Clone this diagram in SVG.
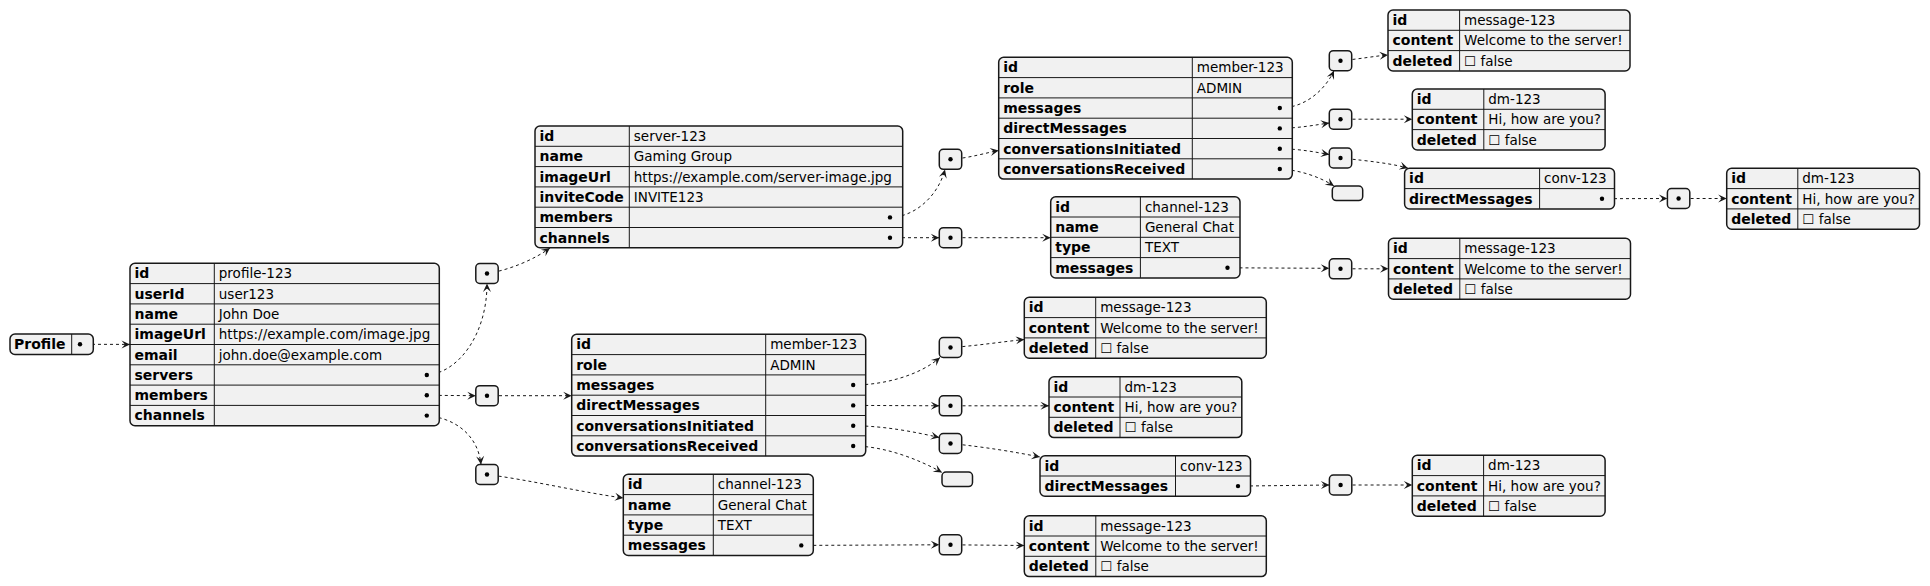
<svg xmlns="http://www.w3.org/2000/svg" width="1930" height="586" viewBox="0 0 1930 586">
<style>
.t{fill:#F1F1F1;stroke:#181818;stroke-width:1.5}
.g{fill:none;stroke:#181818;stroke-width:1}
.k{font-family:"DejaVu Sans",sans-serif;font-weight:bold;font-size:14px;fill:#000}
.v{font-family:"DejaVu Sans",sans-serif;font-size:13.5px;fill:#000}
.d{fill:#000}
.c{fill:none;stroke:#181818;stroke-width:1;stroke-dasharray:3,3}
</style>
<defs>
<marker id="ah" viewBox="-10 -5 11 10" refX="0" refY="0" markerWidth="11" markerHeight="10" orient="auto" markerUnits="userSpaceOnUse"><path d="M0,0 L-8.5,-4 L-5,0 L-8.5,4 Z" fill="#181818"/></marker>
</defs>
<rect width="1930" height="586" fill="#fff"/>

<g id="connectors" class="c" marker-end="url(#ah)">
<path d="M80,344.3 L130,344.4"/>
<path d="M426.8,375 C458,373 487,335 487,283.5"/>
<path d="M426.8,395.3 L475.8,395.7"/>
<path d="M426.8,415.6 C455,418 478,435 481,464.5"/>
<path d="M487,273.5 C510,270 535,259 550,248"/>
<path d="M487,395.7 L571.7,395.7"/>
<path d="M487,474.5 C530,480 580,492 623.3,498"/>
<path d="M890,217.4 C915,217 938,196 945,169.5"/>
<path d="M890,237.7 L939.3,237.7"/>
<path d="M950.5,159.3 C970,158 985,153 998.7,150.5"/>
<path d="M950.5,237.7 L1050.7,237.7"/>
<path d="M1279.8,108 C1305,108 1325,90 1334,70.7"/>
<path d="M1279.8,128.4 C1300,128 1315,125 1329.3,123"/>
<path d="M1279.8,148.7 C1300,149 1315,152 1329.3,154.5"/>
<path d="M1279.8,169 C1300,170 1320,177 1334,186"/>
<path d="M1340.5,60.7 C1360,59 1375,56 1388,55"/>
<path d="M1340.5,119.2 L1412.3,119.2"/>
<path d="M1340.5,158 C1370,161 1395,164 1408,168.3"/>
<path d="M1602,198.7 L1667.4,198.5"/>
<path d="M1678.6,198.5 L1726.7,198.5"/>
<path d="M1227.5,267.8 L1329.3,268.3"/>
<path d="M1340.5,268.8 L1388.5,268.8"/>
<path d="M853.2,385 C885,385 920,375 940,357.5"/>
<path d="M853.2,405.4 L939.3,405.8"/>
<path d="M853.2,425.7 C885,426 915,432 939.3,437.5"/>
<path d="M853.2,446 C885,446 920,460 942,472.5"/>
<path d="M950.5,347.5 C975,346 1000,342 1024.3,339.5"/>
<path d="M950.5,405.8 L1049,405.8"/>
<path d="M950.5,443.5 C985,447 1015,452 1040,457"/>
<path d="M1238,486.1 L1329.4,485"/>
<path d="M1340.6,485 L1412.3,485"/>
<path d="M801.3,545.4 L939.3,544.8"/>
<path d="M950.5,544.8 L1024.3,545.5"/>
</g>

<g id="root">
<rect class="t" x="10" y="334" width="83.3" height="20.5" rx="5"/>
<path class="g" d="M71.7,334V354.5"/>
<text class="k" x="14" y="349">Profile</text>
<circle class="d" cx="80" cy="344.3" r="2.2"/>
</g>

<g id="profile">
<rect class="t" x="130" y="263.3" width="309.3" height="162.4" rx="5"/>
<path class="g" d="M130,283.6H439.3M130,303.9H439.3M130,324.2H439.3M130,344.5H439.3M130,364.8H439.3M130,385.1H439.3M130,405.4H439.3M214.3,263.3V425.7"/>
<text class="k" x="134.5" y="278.3">id</text><text class="v" x="218.8" y="278.3">profile-123</text>
<text class="k" x="134.5" y="298.6">userId</text><text class="v" x="218.8" y="298.6">user123</text>
<text class="k" x="134.5" y="318.9">name</text><text class="v" x="218.8" y="318.9">John Doe</text>
<text class="k" x="134.5" y="339.2">imageUrl</text><text class="v" x="218.8" y="339.2">https://example.com/image.jpg</text>
<text class="k" x="134.5" y="359.5">email</text><text class="v" x="218.8" y="359.5">john.doe@example.com</text>
<text class="k" x="134.5" y="379.8">servers</text><circle class="d" cx="426.8" cy="375" r="2.2"/>
<text class="k" x="134.5" y="400.1">members</text><circle class="d" cx="426.8" cy="395.3" r="2.2"/>
<text class="k" x="134.5" y="420.4">channels</text><circle class="d" cx="426.8" cy="415.6" r="2.2"/>
</g>

<g id="arr-servers"><rect class="t" x="475.8" y="263.5" width="22.4" height="20" rx="4"/><circle class="d" cx="487" cy="273.5" r="2.2"/></g>
<g id="arr-members"><rect class="t" x="475.8" y="385.7" width="22.4" height="20" rx="4"/><circle class="d" cx="487" cy="395.7" r="2.2"/></g>
<g id="arr-channels"><rect class="t" x="475.8" y="464.5" width="22.4" height="20" rx="4"/><circle class="d" cx="487" cy="474.5" r="2.2"/></g>

<g id="server">
<rect class="t" x="535" y="126" width="367.7" height="121.8" rx="5"/>
<path class="g" d="M535,146.3H902.7M535,166.6H902.7M535,186.9H902.7M535,207.2H902.7M535,227.5H902.7M629.3,126V247.8"/>
<text class="k" x="539.5" y="141">id</text><text class="v" x="633.8" y="141">server-123</text>
<text class="k" x="539.5" y="161.3">name</text><text class="v" x="633.8" y="161.3">Gaming Group</text>
<text class="k" x="539.5" y="181.6">imageUrl</text><text class="v" x="633.8" y="181.6">https://example.com/server-image.jpg</text>
<text class="k" x="539.5" y="201.9">inviteCode</text><text class="v" x="633.8" y="201.9">INVITE123</text>
<text class="k" x="539.5" y="222.2">members</text><circle class="d" cx="890" cy="217.4" r="2.2"/>
<text class="k" x="539.5" y="242.5">channels</text><circle class="d" cx="890" cy="237.7" r="2.2"/>
</g>

<g id="arr-server-members"><rect class="t" x="939.3" y="149.3" width="22.4" height="20" rx="4"/><circle class="d" cx="950.5" cy="159.3" r="2.2"/></g>
<g id="arr-server-channels"><rect class="t" x="939.3" y="227.7" width="22.4" height="20" rx="4"/><circle class="d" cx="950.5" cy="237.7" r="2.2"/></g>

<g id="member1">
<rect class="t" x="998.7" y="57.3" width="293.6" height="121.8" rx="5"/>
<path class="g" d="M998.7,77.6H1292.3M998.7,97.9H1292.3M998.7,118.2H1292.3M998.7,138.5H1292.3M998.7,158.8H1292.3M1192.3,57.3V179.1"/>
<text class="k" x="1003.2" y="72.3">id</text><text class="v" x="1196.8" y="72.3">member-123</text>
<text class="k" x="1003.2" y="92.6">role</text><text class="v" x="1196.8" y="92.6">ADMIN</text>
<text class="k" x="1003.2" y="112.9">messages</text><circle class="d" cx="1279.8" cy="108" r="2.2"/>
<text class="k" x="1003.2" y="133.2">directMessages</text><circle class="d" cx="1279.8" cy="128.4" r="2.2"/>
<text class="k" x="1003.2" y="153.5">conversationsInitiated</text><circle class="d" cx="1279.8" cy="148.7" r="2.2"/>
<text class="k" x="1003.2" y="173.8">conversationsReceived</text><circle class="d" cx="1279.8" cy="169" r="2.2"/>
</g>

<g id="arr-m1-messages"><rect class="t" x="1329.3" y="50.7" width="22.4" height="20" rx="4"/><circle class="d" cx="1340.5" cy="60.7" r="2.2"/></g>
<g id="arr-m1-dms"><rect class="t" x="1329.3" y="109.2" width="22.4" height="20" rx="4"/><circle class="d" cx="1340.5" cy="119.2" r="2.2"/></g>
<g id="arr-m1-convinit"><rect class="t" x="1329.3" y="148" width="22.4" height="20" rx="4"/><circle class="d" cx="1340.5" cy="158" r="2.2"/></g>
<g id="arr-m1-convrecv"><rect class="t" x="1332.3" y="186" width="30.4" height="14.6" rx="4"/></g>

<g id="message1">
<rect class="t" x="1388" y="10" width="242" height="60.9" rx="5"/>
<path class="g" d="M1388,30.3H1630M1388,50.6H1630M1459.6,10V70.9"/>
<text class="k" x="1392.5" y="25">id</text><text class="v" x="1464.1" y="25">message-123</text>
<text class="k" x="1392.5" y="45.3">content</text><text class="v" x="1464.1" y="45.3">Welcome to the server!</text>
<text class="k" x="1392.5" y="65.6">deleted</text><text class="v" x="1464.1" y="65.6">☐ false</text>
</g>

<g id="dm1">
<rect class="t" x="1412.3" y="89" width="192.8" height="60.9" rx="5"/>
<path class="g" d="M1412.3,109.3H1605.1M1412.3,129.6H1605.1M1483.8,89V149.9"/>
<text class="k" x="1416.8" y="104">id</text><text class="v" x="1488.3" y="104">dm-123</text>
<text class="k" x="1416.8" y="124.3">content</text><text class="v" x="1488.3" y="124.3">Hi, how are you?</text>
<text class="k" x="1416.8" y="144.6">deleted</text><text class="v" x="1488.3" y="144.6">☐ false</text>
</g>

<g id="conv1">
<rect class="t" x="1404.6" y="168.3" width="209.9" height="40.6" rx="5"/>
<path class="g" d="M1404.6,188.6H1614.5M1539.6,168.3V208.9"/>
<text class="k" x="1409.1" y="183.3">id</text><text class="v" x="1544.1" y="183.3">conv-123</text>
<text class="k" x="1409.1" y="203.6">directMessages</text><circle class="d" cx="1602" cy="198.7" r="2.2"/>
</g>

<g id="arr-conv1-dms"><rect class="t" x="1667.4" y="188.5" width="22.4" height="20" rx="4"/><circle class="d" cx="1678.6" cy="198.5" r="2.2"/></g>

<g id="dm2">
<rect class="t" x="1726.7" y="168.3" width="192.8" height="60.9" rx="5"/>
<path class="g" d="M1726.7,188.6H1919.5M1726.7,208.9H1919.5M1797.8,168.3V229.2"/>
<text class="k" x="1731.2" y="183.3">id</text><text class="v" x="1802.3" y="183.3">dm-123</text>
<text class="k" x="1731.2" y="203.6">content</text><text class="v" x="1802.3" y="203.6">Hi, how are you?</text>
<text class="k" x="1731.2" y="223.9">deleted</text><text class="v" x="1802.3" y="223.9">☐ false</text>
</g>

<g id="channel1">
<rect class="t" x="1050.7" y="196.7" width="189.3" height="81.2" rx="5"/>
<path class="g" d="M1050.7,217H1240M1050.7,237.3H1240M1050.7,257.6H1240M1140.4,196.7V277.9"/>
<text class="k" x="1055.2" y="211.7">id</text><text class="v" x="1144.9" y="211.7">channel-123</text>
<text class="k" x="1055.2" y="232">name</text><text class="v" x="1144.9" y="232">General Chat</text>
<text class="k" x="1055.2" y="252.3">type</text><text class="v" x="1144.9" y="252.3">TEXT</text>
<text class="k" x="1055.2" y="272.6">messages</text><circle class="d" cx="1227.5" cy="267.8" r="2.2"/>
</g>

<g id="arr-ch1-messages"><rect class="t" x="1329.3" y="258.8" width="22.4" height="20" rx="4"/><circle class="d" cx="1340.5" cy="268.8" r="2.2"/></g>

<g id="message2">
<rect class="t" x="1388.5" y="238.3" width="242" height="60.9" rx="5"/>
<path class="g" d="M1388.5,258.6H1630.5M1388.5,278.9H1630.5M1459.8,238.3V299.2"/>
<text class="k" x="1393" y="253.3">id</text><text class="v" x="1464.3" y="253.3">message-123</text>
<text class="k" x="1393" y="273.6">content</text><text class="v" x="1464.3" y="273.6">Welcome to the server!</text>
<text class="k" x="1393" y="293.9">deleted</text><text class="v" x="1464.3" y="293.9">☐ false</text>
</g>

<g id="member2">
<rect class="t" x="571.7" y="334.3" width="294" height="121.8" rx="5"/>
<path class="g" d="M571.7,354.6H865.7M571.7,374.9H865.7M571.7,395.2H865.7M571.7,415.5H865.7M571.7,435.8H865.7M765.7,334.3V456.1"/>
<text class="k" x="576.2" y="349.3">id</text><text class="v" x="770.2" y="349.3">member-123</text>
<text class="k" x="576.2" y="369.6">role</text><text class="v" x="770.2" y="369.6">ADMIN</text>
<text class="k" x="576.2" y="389.9">messages</text><circle class="d" cx="853.2" cy="385" r="2.2"/>
<text class="k" x="576.2" y="410.2">directMessages</text><circle class="d" cx="853.2" cy="405.4" r="2.2"/>
<text class="k" x="576.2" y="430.5">conversationsInitiated</text><circle class="d" cx="853.2" cy="425.7" r="2.2"/>
<text class="k" x="576.2" y="450.8">conversationsReceived</text><circle class="d" cx="853.2" cy="446" r="2.2"/>
</g>

<g id="arr-m2-messages"><rect class="t" x="939.3" y="337.5" width="22.4" height="20" rx="4"/><circle class="d" cx="950.5" cy="347.5" r="2.2"/></g>
<g id="arr-m2-dms"><rect class="t" x="939.3" y="395.8" width="22.4" height="20" rx="4"/><circle class="d" cx="950.5" cy="405.8" r="2.2"/></g>
<g id="arr-m2-convinit"><rect class="t" x="939.3" y="433.5" width="22.4" height="20" rx="4"/><circle class="d" cx="950.5" cy="443.5" r="2.2"/></g>
<g id="arr-m2-convrecv"><rect class="t" x="942" y="472" width="30.5" height="14.6" rx="4"/></g>

<g id="message3">
<rect class="t" x="1024.3" y="297.3" width="242" height="60.9" rx="5"/>
<path class="g" d="M1024.3,317.6H1266.3M1024.3,337.9H1266.3M1095.7,297.3V358.2"/>
<text class="k" x="1028.8" y="312.3">id</text><text class="v" x="1100.2" y="312.3">message-123</text>
<text class="k" x="1028.8" y="332.6">content</text><text class="v" x="1100.2" y="332.6">Welcome to the server!</text>
<text class="k" x="1028.8" y="352.9">deleted</text><text class="v" x="1100.2" y="352.9">☐ false</text>
</g>

<g id="dm3">
<rect class="t" x="1049" y="376.7" width="192.8" height="60.9" rx="5"/>
<path class="g" d="M1049,397H1241.8M1049,417.3H1241.8M1120,376.7V437.6"/>
<text class="k" x="1053.5" y="391.7">id</text><text class="v" x="1124.5" y="391.7">dm-123</text>
<text class="k" x="1053.5" y="412">content</text><text class="v" x="1124.5" y="412">Hi, how are you?</text>
<text class="k" x="1053.5" y="432.3">deleted</text><text class="v" x="1124.5" y="432.3">☐ false</text>
</g>

<g id="conv2">
<rect class="t" x="1040" y="455.7" width="210.5" height="40.6" rx="5"/>
<path class="g" d="M1040,476H1250.5M1175.5,455.7V496.3"/>
<text class="k" x="1044.5" y="470.7">id</text><text class="v" x="1180" y="470.7">conv-123</text>
<text class="k" x="1044.5" y="491">directMessages</text><circle class="d" cx="1238" cy="486.1" r="2.2"/>
</g>

<g id="arr-conv2-dms"><rect class="t" x="1329.4" y="475" width="22.4" height="20" rx="4"/><circle class="d" cx="1340.6" cy="485" r="2.2"/></g>

<g id="dm4">
<rect class="t" x="1412.3" y="455.3" width="192.8" height="60.9" rx="5"/>
<path class="g" d="M1412.3,475.6H1605.1M1412.3,495.9H1605.1M1483.6,455.3V516.2"/>
<text class="k" x="1416.8" y="470.3">id</text><text class="v" x="1488.1" y="470.3">dm-123</text>
<text class="k" x="1416.8" y="490.6">content</text><text class="v" x="1488.1" y="490.6">Hi, how are you?</text>
<text class="k" x="1416.8" y="510.9">deleted</text><text class="v" x="1488.1" y="510.9">☐ false</text>
</g>

<g id="channel2">
<rect class="t" x="623.3" y="474.3" width="190" height="81.2" rx="5"/>
<path class="g" d="M623.3,494.6H813.3M623.3,514.9H813.3M623.3,535.2H813.3M713.3,474.3V555.5"/>
<text class="k" x="627.8" y="489.3">id</text><text class="v" x="717.8" y="489.3">channel-123</text>
<text class="k" x="627.8" y="509.6">name</text><text class="v" x="717.8" y="509.6">General Chat</text>
<text class="k" x="627.8" y="529.9">type</text><text class="v" x="717.8" y="529.9">TEXT</text>
<text class="k" x="627.8" y="550.2">messages</text><circle class="d" cx="801.3" cy="545.4" r="2.2"/>
</g>

<g id="arr-ch2-messages"><rect class="t" x="939.3" y="534.8" width="22.4" height="20" rx="4"/><circle class="d" cx="950.5" cy="544.8" r="2.2"/></g>

<g id="message4">
<rect class="t" x="1024.3" y="515.7" width="242" height="60.9" rx="5"/>
<path class="g" d="M1024.3,536H1266.3M1024.3,556.3H1266.3M1095.8,515.7V576.6"/>
<text class="k" x="1028.8" y="530.7">id</text><text class="v" x="1100.3" y="530.7">message-123</text>
<text class="k" x="1028.8" y="551">content</text><text class="v" x="1100.3" y="551">Welcome to the server!</text>
<text class="k" x="1028.8" y="571.3">deleted</text><text class="v" x="1100.3" y="571.3">☐ false</text>
</g>
</svg>
